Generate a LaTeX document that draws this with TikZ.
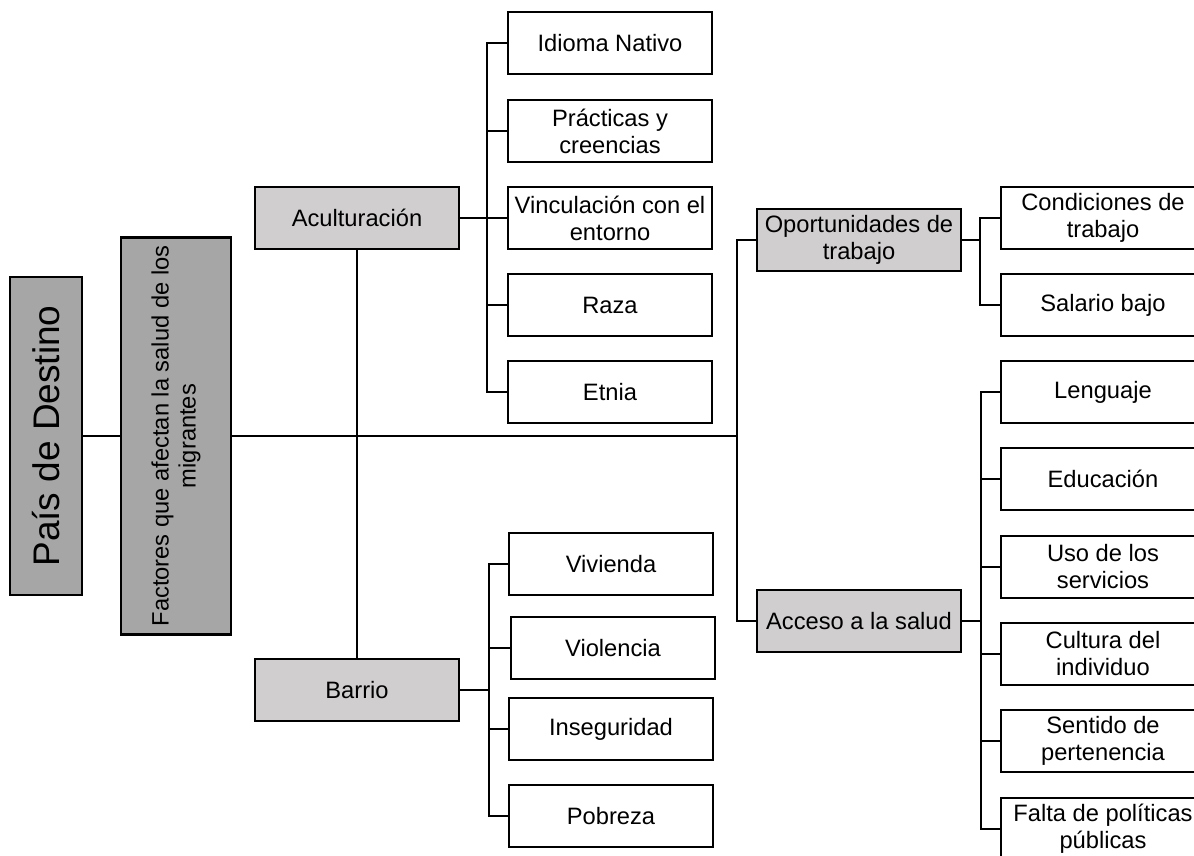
\documentclass[tikz,border=0pt]{standalone}
\usepackage{fontspec}
\setmainfont{Liberation Sans}
\definecolor{boxdark}{HTML}{A6A6A6}
\definecolor{boxlight}{HTML}{D0CECE}
\begin{document}
\begin{tikzpicture}[x=1pt,y=-1pt,
  base/.style={draw=black, line width=2.8pt, rectangle, inner sep=2pt,
    align=center, font=\fontsize{23.7}{27}\selectfont},
  leaf/.style={base, fill=white, minimum width=204pt, minimum height=62pt},
  mid/.style={base, fill=boxlight, minimum width=204pt, minimum height=62pt},
  root/.style={base, fill=boxdark},
  link/.style={draw=black, line width=2.8pt}]
\clip (0,0) rectangle (1194,855);
\fill[white] (0,0) rectangle (1194,855);

% left column
\node[root, rotate=90, minimum width=318pt, minimum height=72pt,
      font=\fontsize{37}{42}\selectfont] (pais) at (46,436) {País de Destino};
\node[root, rotate=90, minimum width=397pt, minimum height=110pt] (fact) at (176,436)
  {Factores que afectan la salud de los\\migrantes};

% second level
\node[mid] (acult) at (357,218) {Aculturación};
\node[mid] (barrio) at (357,690) {Barrio};
\node[mid] (oport) at (859,240) {Oportunidades de\\trabajo};
\node[mid] (acceso) at (859,621) {Acceso a la salud};

% Aculturación leaves
\node[leaf] (idioma) at (610,43) {Idioma Nativo};
\node[leaf] (pract) at (610,131) {Prácticas y\\creencias};
\node[leaf] (vinc) at (610,218) {Vinculación con el\\entorno};
\node[leaf] (raza) at (610,305) {Raza};
\node[leaf] (etnia) at (610,392) {Etnia};

% Barrio leaves
\node[leaf] (viv) at (611,564) {Vivienda};
\node[leaf] (viol) at (613,648) {Violencia};
\node[leaf] (inseg) at (611,729) {Inseguridad};
\node[leaf] (pobr) at (611,816) {Pobreza};

% Oportunidades leaves
\node[leaf] (cond) at (1103,218) {Condiciones de\\trabajo};
\node[leaf] (sal) at (1103,305) {Salario bajo};

% Acceso leaves
\node[leaf] (leng) at (1103,392) {Lenguaje};
\node[leaf] (educ) at (1103,479) {Educación};
\node[leaf] (uso) at (1103,567) {Uso de los\\servicios};
\node[leaf] (cult) at (1103,654) {Cultura del\\individuo};
\node[leaf] (sent) at (1103,741) {Sentido de\\pertenencia};
\node[leaf] (falta) at (1103,829) {Falta de políticas\\públicas};

% junction points
\coordinate (jm) at (737,436);
\coordinate (ja) at (487,218);
\coordinate (jb) at (489,690);
\coordinate (jo) at (980,240);
\coordinate (jc) at (981,621);

% connectors
\draw[link] (pais.south) -- (fact.north);
\draw[link] (fact.south) -- (jm);
\draw[link] (acult.south) -- (barrio.north);
\draw[link] (jm) |- (oport.west);
\draw[link] (jm) |- (acceso.west);

\draw[link] (acult.east) -- (ja);
\foreach \n in {idioma,pract,vinc,raza,etnia} \draw[link] (ja) |- (\n.west);

\draw[link] (barrio.east) -- (jb);
\foreach \n in {viv,viol,inseg,pobr} \draw[link] (jb) |- (\n.west);

\draw[link] (oport.east) -- (jo);
\foreach \n in {cond,sal} \draw[link] (jo) |- (\n.west);

\draw[link] (acceso.east) -- (jc);
\foreach \n in {leng,educ,uso,cult,sent,falta} \draw[link] (jc) |- (\n.west);
\end{tikzpicture}
\end{document}
